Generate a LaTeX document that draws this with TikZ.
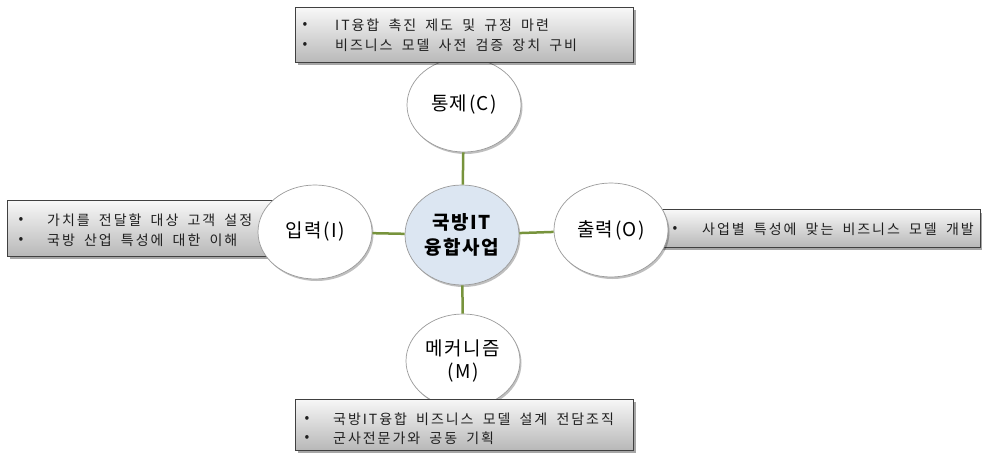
\documentclass[tikz,border=0pt]{standalone}
\usepackage{fontspec}
\setmainfont{Noto Sans CJK KR}
\newfontfamily\spacedfont[LetterSpace=14,WordSpace=1.8]{Noto Sans CJK KR}
\newfontfamily\labelfont[LetterSpace=8]{Noto Sans CJK KR}
\usetikzlibrary{shapes.geometric,shadows}
\definecolor{boxborder}{HTML}{404040}
\definecolor{boxtop}{HTML}{F7F7F7}
\definecolor{boxbot}{HTML}{B8B8B8}
\definecolor{ellborder}{HTML}{9A9A9A}
\definecolor{centerfill}{HTML}{DCE6F2}
\definecolor{linkgreen}{HTML}{77933C}
\definecolor{textdark}{HTML}{1F1F1F}
\tikzset{
  infobox/.style={draw=boxborder, line width=1pt, top color=boxtop, bottom color=boxbot,
    drop shadow={shadow xshift=2.5pt, shadow yshift=-2.5pt, fill=black, opacity=0.35}},
  ell/.style={ellipse, draw=ellborder, line width=0.7pt, fill=white, minimum width=114pt,
    minimum height=94pt, inner sep=0pt, align=center, text=black,
    font=\labelfont\fontsize{19}{23}\selectfont,
    drop shadow={shadow xshift=1.5pt, shadow yshift=-2pt, fill=black, opacity=0.25}},
  centerell/.style={ell, fill=centerfill, minimum height=100pt,
    font=\labelfont\fontsize{19}{25}\selectfont\bfseries},
  link/.style={draw=linkgreen, line width=2.5pt},
  btext/.style={anchor=west, inner sep=0pt, text=textdark, font=\spacedfont\fontsize{14}{16}\selectfont},
  bul/.style={btext, anchor=center}
}
\begin{document}
\begin{tikzpicture}[x=1pt,y=-1pt]
\useasboundingbox (0,0) rectangle (982,457);
% side boxes (under their circles)
\path[infobox] (7,201) rectangle (300,256);
\node[bul] (lb1) at (21,220) {•};
\node[btext] (lt1) at (47,220) {가치를 전달할 대상 고객 설정};
\node[bul] (lb2) at (21,240) {•};
\node[btext] (lt2) at (47,240) {국방 산업 특성에 대한 이해};
\path[infobox] (640,210) rectangle (980,247);
\node[bul] (rb1) at (675,229) {•};
\node[btext] (rt1) at (702,229) {사업별 특성에 맞는 비즈니스 모델 개발};
% circles
\node[centerell] (c) at (462,235) {국방IT\\융합사업};
\node[ell] (t) at (464,105) {통제(C)};
\node[ell] (l) at (315,232) {입력(I)};
\node[ell] (r) at (611,230) {출력(O)};
\node[ell] (m) at (463,361) {메커니즘\\(M)};
% connectors
\draw[link] (c) -- (t);
\draw[link] (c) -- (l);
\draw[link] (c) -- (r);
\draw[link] (c) -- (m);
% top and bottom boxes (over their circles)
\path[infobox] (295,8) rectangle (633,63);
\node[bul] (tb1) at (305,25) {•};
\node[btext] (tt1) at (335,25) {IT융합 촉진 제도 및 규정 마련};
\node[bul] (tb2) at (305,45) {•};
\node[btext] (tt2) at (335,45) {비즈니스 모델 사전 검증 장치 구비};
\path[infobox] (295,399) rectangle (633,450);
\node[bul] (bb1) at (307,419) {•};
\node[btext] (bt1) at (333,419) {국방IT융합 비즈니스 모델 설계 전담조직};
\node[bul] (bb2) at (307,438) {•};
\node[btext] (bt2) at (333,438) {군사전문가와 공동 기획};
\end{tikzpicture}
\end{document}
